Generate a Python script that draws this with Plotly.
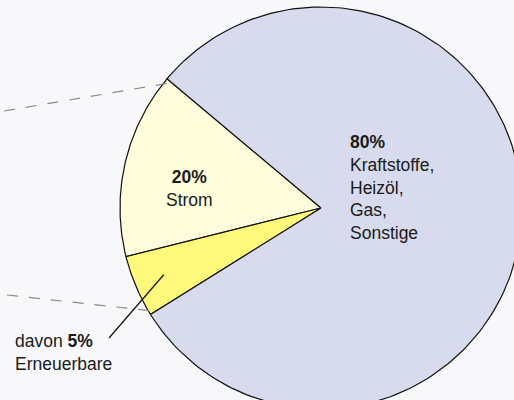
import numpy as np
import plotly.graph_objects as go

# Data
slice_names = ["Strom (nicht erneuerbar)", "Strom erneuerbar", "Kraftstoffe, Heizöl, Gas, Sonstige"]
slice_values = [15, 5, 80]
slice_colors = ["#fffddc", "#fff87a", "#d8dbee"]
start_angle_deg = 140.0

W, H = 514, 400
CX, CY, R = 321.0, 208.0, 201.0  # pixel layout of the pie


def px_to_data(px, py):
    return ((px - CX) / R, (CY - py) / R)


fig = go.Figure()
total = sum(slice_values)
angles = []
a = start_angle_deg
for name, val, col in zip(slice_names, slice_values, slice_colors):
    a0 = a
    a1 = a + 360.0 * val / total
    angles.append((a0, a1))
    t = np.radians(np.linspace(a0, a1, 200))
    xs = np.concatenate([[0], np.cos(t), [0]])
    ys = np.concatenate([[0], np.sin(t), [0]])
    fig.add_trace(go.Scatter(x=xs, y=ys, fill="toself", fillcolor=col, mode="lines",
                             line=dict(color="#111111", width=1.2), name=name,
                             hoverinfo="skip", showlegend=False))
    a = a1

# dashed guide lines toward the Strom slice boundaries
bx1 = 0.97 * np.cos(np.radians(angles[0][0]))
by1 = 0.97 * np.sin(np.radians(angles[0][0]))
bx2 = 0.97 * np.cos(np.radians(angles[1][1]))
by2 = 0.97 * np.sin(np.radians(angles[1][1]))
sx1, sy1 = px_to_data(4, 111)
sx2, sy2 = px_to_data(7, 295)
for (xa, ya, xb, yb) in [(sx1, sy1, bx1, by1), (sx2, sy2, bx2, by2)]:
    fig.add_shape(type="line", x0=xa, y0=ya, x1=xb, y1=yb, xref="x", yref="y",
                  line=dict(color="#8a8a8a", width=1.2, dash="11px,11px"))

# leader line from renewable wedge
mid = np.radians((angles[1][0] + angles[1][1]) / 2)
lx0, ly0 = 0.85 * np.cos(mid), 0.85 * np.sin(mid)
lx1, ly1 = px_to_data(109, 338)
fig.add_shape(type="line", x0=lx0, y0=ly0, x1=lx1, y1=ly1, xref="x", yref="y",
              line=dict(color="#111111", width=1.2))

font = dict(family="Liberation Sans, Arial, sans-serif", size=17.5, color="#1a1a1a")
ax, ay = px_to_data(348, 187)
fig.add_annotation(x=ax, y=ay, xref="x", yref="y", xanchor="left", yanchor="middle",
                   text="<b>80%</b><br>Kraftstoffe,<br>Heizöl,<br>Gas,<br>Sonstige",
                   showarrow=False, align="left", font=font)
ax, ay = px_to_data(189, 188)
fig.add_annotation(x=ax, y=ay, xref="x", yref="y", xanchor="center", yanchor="middle",
                   text="<b>20%</b><br>Strom", showarrow=False, align="center", font=font)
ax, ay = px_to_data(13, 352)
fig.add_annotation(x=ax, y=ay, xref="x", yref="y", xanchor="left", yanchor="middle",
                   text="davon <b>5%</b><br>Erneuerbare", showarrow=False, align="left", font=font)

x0, y0 = px_to_data(0, H)
x1, y1 = px_to_data(W, 0)
fig.update_xaxes(range=[x0, x1], visible=False, fixedrange=True)
fig.update_yaxes(range=[y0, y1], visible=False, fixedrange=True)
fig.update_layout(width=W, height=H, margin=dict(l=0, r=0, t=0, b=0),
                  paper_bgcolor="#f8f8fa", plot_bgcolor="#f8f8fa", showlegend=False)
fig.write_html("out.html", config={"displayModeBar": False},
               post_script="document.body.style.margin='0';document.body.style.background='#f8f8fa';document.body.style.overflow='hidden';")
